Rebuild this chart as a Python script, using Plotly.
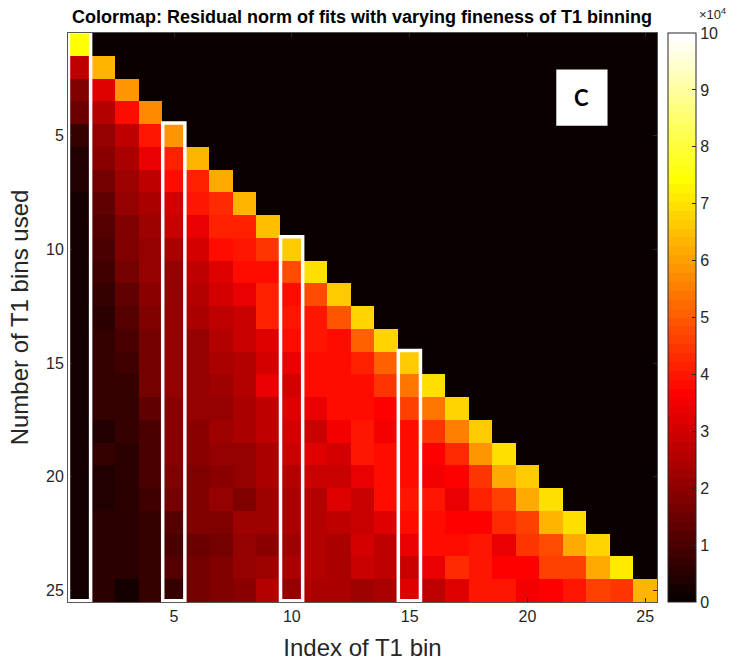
import plotly.graph_objects as go

# ---- data (residual norm; row = number of bins used) ----
row_values = [
    [74.0],
    [28.0, 64.0],
    [17.6, 32.3, 58.0],
    [14.7, 25.0, 37.5, 56.6],
    [7.4, 21.3, 28.0, 39.7, 58.0],
    [4.4, 19.1, 24.3, 33.1, 41.2, 62.5],
    [3.7, 16.9, 22.8, 27.9, 37.5, 41.2, 61.8],
    [2.9, 13.2, 20.6, 24.3, 30.9, 39.7, 42.6, 62.5],
    [2.6, 11.8, 18.4, 22.1, 28.7, 33.8, 41.9, 41.9, 65.4],
    [2.2, 10.3, 17.6, 21.3, 24.3, 30.1, 39.0, 39.7, 44.8, 66.9],
    [1.8, 8.1, 16.2, 20.6, 21.3, 27.9, 31.6, 39.0, 37.5, 47.8, 69.1],
    [1.8, 6.6, 14.0, 19.1, 21.3, 25.0, 30.1, 33.8, 41.9, 37.5, 47.8, 66.9],
    [2.4, 6.2, 11.8, 17.6, 20.6, 23.5, 27.6, 29.4, 41.2, 40.4, 40.4, 49.3, 68.4],
    [2.6, 6.6, 9.6, 16.9, 20.6, 20.6, 25.7, 29.4, 32.3, 39.0, 39.7, 39.0, 50.7, 68.4],
    [2.6, 6.6, 8.1, 16.2, 20.6, 20.6, 23.5, 25.7, 30.9, 33.8, 39.0, 37.5, 41.9, 50.7, 66.9],
    [2.6, 6.6, 6.6, 16.2, 20.6, 20.6, 22.1, 25.7, 33.1, 30.1, 39.0, 39.0, 37.5, 44.8, 53.7, 69.8],
    [2.6, 6.6, 6.6, 14.0, 19.1, 20.6, 21.3, 23.5, 27.9, 31.6, 33.8, 39.0, 39.0, 36.0, 46.3, 53.7, 68.4],
    [2.6, 4.4, 6.6, 10.3, 19.8, 19.1, 22.1, 24.3, 27.2, 30.9, 28.7, 35.3, 40.4, 35.3, 37.5, 44.8, 55.1, 66.9],
    [2.6, 6.6, 5.9, 9.6, 19.1, 19.1, 20.6, 20.6, 24.3, 29.4, 31.6, 30.9, 40.4, 39.0, 39.0, 36.0, 43.4, 58.1, 69.1],
    [2.6, 4.4, 5.9, 9.6, 17.6, 18.4, 19.8, 20.6, 23.5, 25.0, 29.4, 29.4, 33.1, 37.5, 39.0, 34.5, 36.0, 44.8, 61.0, 66.2],
    [2.6, 4.4, 5.9, 8.8, 16.9, 17.6, 20.6, 18.4, 22.8, 24.3, 26.5, 31.6, 29.4, 37.5, 40.4, 40.4, 33.8, 41.9, 46.3, 61.8, 69.1],
    [2.6, 5.9, 5.9, 7.4, 11.8, 17.6, 17.6, 22.1, 22.1, 24.3, 26.5, 27.9, 29.4, 32.3, 39.0, 39.0, 36.8, 36.0, 43.4, 46.3, 64.0, 69.1],
    [2.6, 5.9, 5.9, 6.6, 10.3, 15.4, 16.9, 20.6, 19.1, 22.8, 25.0, 24.3, 30.9, 27.2, 33.8, 39.0, 39.0, 39.7, 33.1, 44.8, 47.8, 61.0, 68.4],
    [2.2, 5.9, 5.9, 6.6, 11.0, 16.9, 18.4, 20.6, 22.1, 24.3, 25.0, 24.3, 28.7, 27.9, 28.7, 33.8, 43.4, 39.7, 36.8, 36.8, 46.3, 46.3, 61.0, 70.6],
    [2.2, 5.9, 2.9, 6.6, 7.4, 16.9, 18.4, 19.8, 25.0, 20.6, 23.5, 23.5, 22.1, 24.3, 32.3, 27.9, 32.3, 40.4, 40.4, 35.3, 36.0, 39.7, 46.3, 44.8, 64.0],
]
value_scale = 1000.0  # values above are in thousands
n_bins = 25
bin_index = list(range(1, n_bins + 1))
highlight_cols = [1, 5, 10, 15]
tick_vals = [5, 10, 15, 20, 25]
cbar_ticks = [0, 1, 2, 3, 4, 5, 6, 7, 8, 9, 10]

# full matrix (upper triangle = 0)
z = []
for r in range(n_bins):
    row = [v * value_scale for v in row_values[r]] + [0.0] * (n_bins - len(row_values[r]))
    z.append(row)

# MATLAB hot(64) discrete colormap
N = 64
n1, n2 = 24, 24
cols = []
for i in range(N):
    r = min(1.0, (i + 1) / n1)
    g = 0.0 if i < n1 else min(1.0, (i + 1 - n1) / n2)
    b = 0.0 if i < n1 + n2 else (i + 1 - n1 - n2) / (N - n1 - n2)
    cols.append(f"rgb({round(r*255)},{round(g*255)},{round(b*255)})")
colorscale = []
for i, c in enumerate(cols):
    colorscale.append([i / N, c])
    colorscale.append([(i + 1) / N, c])

FONT = "Liberation Sans, Arial"
TXT = "#262626"

fig = go.Figure()
fig.add_trace(go.Heatmap(
    z=z, x=bin_index, y=bin_index,
    colorscale=colorscale, zmin=0, zmax=1e5,
    colorbar=dict(
        x=1.0187, xanchor="left", xpad=0, y=0.5, yanchor="middle",
        len=1.0, lenmode="fraction", thickness=28, ypad=0,
        tickvals=[t * 1e4 for t in cbar_ticks], ticktext=[str(t) for t in cbar_ticks],
        ticks="inside", ticklen=4, tickcolor=TXT,
        tickfont=dict(family=FONT, size=16, color=TXT),
        outlinecolor=TXT, outlinewidth=1,
    ),
    showscale=True,
    hoverongaps=False,
))

shapes = []
for c in highlight_cols:
    shapes.append(dict(type="rect", xref="x", yref="y",
                       x0=c - 0.48, x1=c + 0.46, y0=c - 0.55, y1=n_bins + 0.45,
                       line=dict(color="white", width=3.5), fillcolor="rgba(0,0,0,0)", layer="above"))
# "C" panel label box
shapes.append(dict(type="rect", xref="paper", yref="paper",
                   x0=0.829, x1=0.916, y0=0.837, y1=0.936,
                   line=dict(color="white", width=0), fillcolor="white", layer="above"))
fig.update_layout(shapes=shapes)

fig.add_annotation(xref="paper", yref="paper", x=0.8725, y=0.8865, text="<b>C</b>",
                   showarrow=False, font=dict(family="Lato, Open Sans, sans-serif", size=22, color="black"),
                   xanchor="center", yanchor="middle")
fig.add_annotation(xref="paper", yref="paper", x=(697 - 68) / 589, y=1.0, text="×10<sup>4</sup>",
                   showarrow=False, font=dict(family=FONT, size=13, color=TXT),
                   xanchor="left", yanchor="bottom", yshift=9)

fig.update_layout(
    width=738, height=668,
    margin=dict(l=68, r=81, t=33, b=66),
    paper_bgcolor="white", plot_bgcolor="white",
    title=dict(text="<b>Colormap: Residual norm of fits with varying fineness of T1 binning</b>",
               x=362 / 738, xanchor="center", y=1 - 17 / 668, yanchor="middle",
               font=dict(family=FONT, size=18, color="black")),
    xaxis=dict(range=[0.5, 25.5], tickvals=tick_vals, ticks="inside", ticklen=4,
               tickcolor=TXT, mirror="ticks", showline=True, linecolor="#555555", linewidth=1,
               showgrid=False, zeroline=False,
               tickfont=dict(family=FONT, size=16, color=TXT),
               title=dict(text="Index of T1 bin", standoff=14,
                          font=dict(family=FONT, size=24, color=TXT))),
    yaxis=dict(range=[25.5, 0.5], tickvals=tick_vals, ticks="inside", ticklen=4,
               tickcolor=TXT, mirror="ticks", showline=True, linecolor="#555555", linewidth=1,
               showgrid=False, zeroline=False,
               tickfont=dict(family=FONT, size=16, color=TXT),
               title=dict(text="Number of T1 bins used", standoff=10,
                          font=dict(family=FONT, size=24, color=TXT))),
)

fig.write_html("out.html")
